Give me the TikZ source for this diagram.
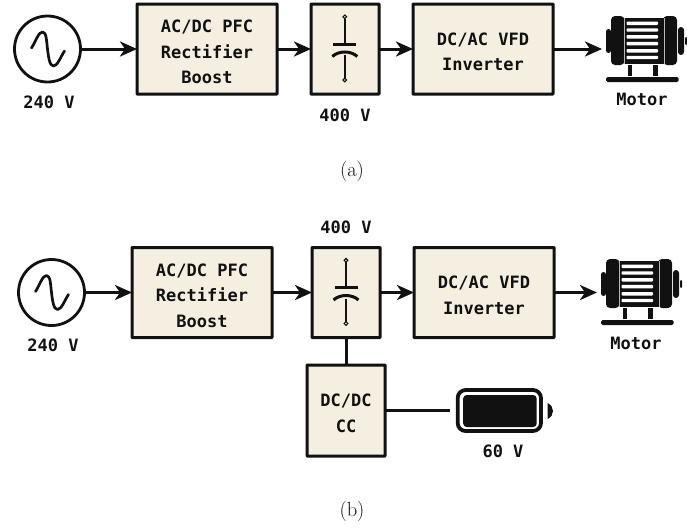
\documentclass[tikz,border=0pt]{standalone}
\usepackage{fontspec}
\newfontfamily\monob{DejaVu Sans Mono}[BoldFont={DejaVu Sans Mono Bold}]
\usetikzlibrary{arrows.meta}
\definecolor{boxfill}{HTML}{F5EFE2}
\definecolor{ink}{HTML}{111111}
\newcommand{\toppad}{\rule{0pt}{18.5pt}}
\tikzset{
  blockbox/.style={draw=ink,fill=boxfill,line width=3pt,rounded corners=0.6pt,inner sep=0pt,outer sep=0pt,align=center,font=\monob\bfseries\fontsize{17}{25.5}\selectfont,text=ink},
  lbl/.style={font=\monob\bfseries\fontsize{17}{20}\selectfont,text=ink,inner sep=0pt},
  capt/.style={font=\fontsize{20.5}{24}\selectfont,text=ink,inner sep=0pt},
  source/.style={circle,draw=ink,line width=2.8pt,minimum size=66pt,inner sep=0pt,outer sep=0pt},
  conn/.style={draw=ink,line width=3pt,-{Stealth[inset=5pt,length=17pt,width=15pt]}},
  wire/.style={draw=ink,line width=3pt},
}
\newcommand{\capicon}[2]{\begin{scope}[shift={(#1,#2)}]
  \draw[ink,line width=1.5pt] (0,-30.5) -- (0,-4.5);
  \draw[ink,line width=1.5pt] (0,6) -- (0,30.5);
  \draw[ink,line width=3pt] (-11.5,-4.7) -- (11.5,-4.7);
  \draw[ink,line width=3pt] (-12.5,7.5) .. controls (-6,1.5) and (6,1.5) .. (12.5,7.5);
  \draw[ink,fill=white,line width=1.1pt] (0,-32.2) circle (1.8);
  \draw[ink,fill=white,line width=1.1pt] (0,31) circle (1.8);
\end{scope}}
\newcommand{\sinewave}[2]{\begin{scope}[shift={(#1,#2)}]
  \draw[ink,line width=2.7pt,line cap=round,line join=round] (-16,-1) .. controls (-11,-9) and (-9,-17) .. (-5,-17) .. controls (-1,-17) and (-1,-8) .. (0,0) .. controls (1,8) and (2,17) .. (6,17) .. controls (10,17) and (13,8) .. (17,2);
\end{scope}}
\newcommand{\motoricon}[2]{\begin{scope}[shift={(#1,#2)},ink]
  \fill[rounded corners=2.5pt] (0,29) rectangle (5,53);
  \fill[rounded corners=4pt] (5,16) rectangle (18.5,65);
  \fill (18.5,18) rectangle (58,63.5);
  \fill[rounded corners=4pt] (57,16) rectangle (71,65);
  \fill[rounded corners=3pt] (72,27) rectangle (78,55);
  \fill[rounded corners=1pt] (79,37) rectangle (81,45);
  \foreach \yy in {23.3,30,36.8,43.6,50.8,57.5}{\fill[white,rounded corners=0.8pt] (20.5,\yy-1.7) rectangle (52,\yy+1.7);}
  \fill[white!70!ink] (18,18) rectangle (18.5,63.5);
  \fill[white!70!ink] (57.7,18) rectangle (58.2,63.5);
  \fill (22,65) rectangle (26,76);
  \fill (47,65) rectangle (51.5,76);
  \fill[rounded corners=1.5pt] (0,77) rectangle (72.5,82);
\end{scope}}
\newcommand{\batteryicon}[2]{\begin{scope}[shift={(#1,#2)},ink]
  \draw[line width=3.8pt,rounded corners=8pt] (2,2) rectangle (85.3,43);
  \fill[rounded corners=3.5pt] (7.5,7) rectangle (81,39);
  \fill (92,15) .. controls (95.5,17) and (97.3,19.5) .. (97.3,23) .. controls (97.3,26.5) and (95.5,29) .. (92,31) -- cycle;
\end{scope}}
\begin{document}
\begin{tikzpicture}[x=1pt,y=-1pt]
\useasboundingbox (0,0) rectangle (687,528);
% (a)
\node[source] (srcA) at (47.5,49) {};
\sinewave{47.5}{49}
\node[blockbox,minimum width=140pt,minimum height=90pt] (rectA) at (207,49) {\toppad AC/DC PFC\\Rectifier\\Boost};
\node[blockbox,minimum width=68pt,minimum height=90pt] (capA) at (345,49) {};
\capicon{344.8}{49}
\node[blockbox,minimum width=140pt,minimum height=90pt] (invA) at (483,49) {\toppad DC/AC VFD\\Inverter};
\motoricon{606}{0}
\coordinate (motA) at (602,49);
\draw[conn] (srcA) -- (rectA);
\draw[conn] (rectA) -- (capA);
\draw[conn] (capA) -- (invA);
\draw[conn] (invA) -- (motA);
\node[lbl] (v240A) at (49,102) {240 V};
\node[lbl] (v400A) at (345,115) {400 V};
\node[lbl] (motorA) at (642,99) {Motor};
\node[capt] (a) at (352,171) {(a)};
% (b)
\node[source] (srcB) at (51.5,292.5) {};
\sinewave{51.5}{292.5}
\node[blockbox,minimum width=140pt,minimum height=90pt] (rectB) at (202,292.5) {\toppad AC/DC PFC\\Rectifier\\Boost};
\node[blockbox,minimum width=68pt,minimum height=90pt] (capB) at (346,292.5) {};
\capicon{346}{292.5}
\node[blockbox,minimum width=140pt,minimum height=90pt] (invB) at (484,292.5) {\toppad DC/AC VFD\\Inverter};
\motoricon{601}{243}
\coordinate (motB) at (597,292.5);
\draw[conn] (srcB) -- (rectB);
\draw[conn] (rectB) -- (capB);
\draw[conn] (capB) -- (invB);
\draw[conn] (invB) -- (motB);
\node[blockbox,minimum width=78pt,minimum height=91pt] (dcdc) at (346,410.5) {\toppad DC/DC\\CC};
\draw[wire] (capB) -- (dcdc);
\batteryicon{455.7}{388}
\coordinate (batB) at (450,410.5);
\draw[wire] (dcdc) -- (batB);
\node[lbl] (v240B) at (53,345) {240 V};
\node[lbl] (v400B) at (346,227) {400 V};
\node[lbl] (motorB) at (636,343) {Motor};
\node[lbl] (v60) at (503,451) {60 V};
\node[capt] (b) at (352,511) {(b)};
\end{tikzpicture}
\end{document}
